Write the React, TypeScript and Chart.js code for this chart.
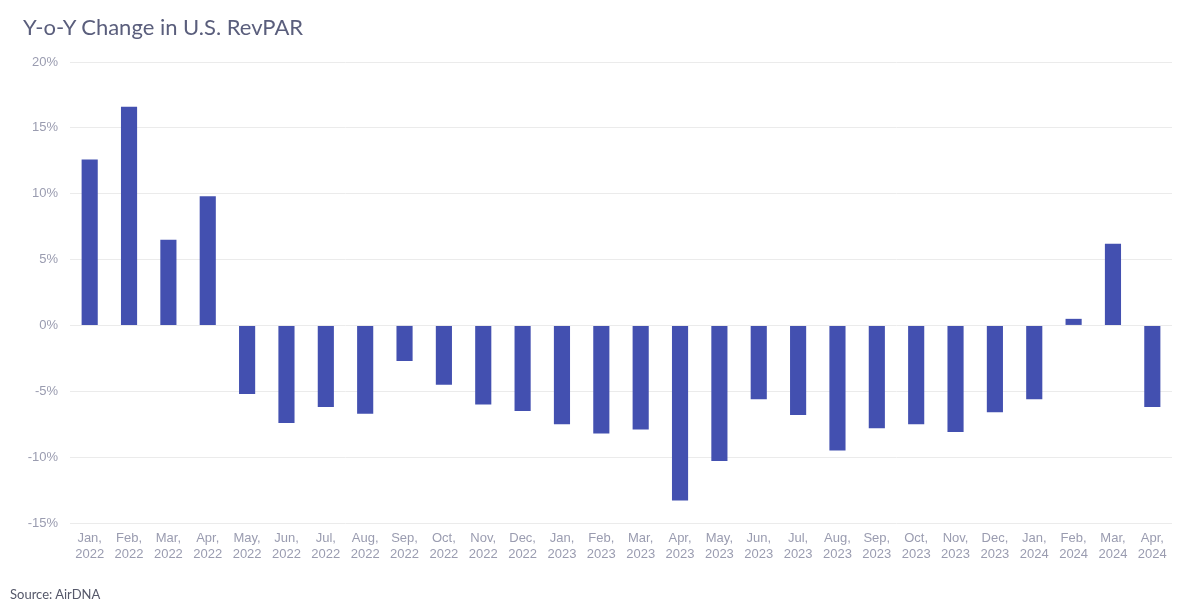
import React, { useEffect, useRef } from "react";
import { Chart, registerables } from "chart.js";

Chart.register(...registerables);

const months = ["Jan", "Feb", "Mar", "Apr", "May", "Jun", "Jul", "Aug", "Sep", "Oct", "Nov", "Dec",
  "Jan", "Feb", "Mar", "Apr", "May", "Jun", "Jul", "Aug", "Sep", "Oct", "Nov", "Dec",
  "Jan", "Feb", "Mar", "Apr"];
const years = ["2022", "2022", "2022", "2022", "2022", "2022", "2022", "2022", "2022", "2022", "2022", "2022",
  "2023", "2023", "2023", "2023", "2023", "2023", "2023", "2023", "2023", "2023", "2023", "2023",
  "2024", "2024", "2024", "2024"];
const revparChange = [12.6, 16.6, 6.5, 9.8, -5.2, -7.4, -6.2, -6.7, -2.7, -4.5, -6.0, -6.5,
  -7.5, -8.2, -7.9, -13.3, -10.3, -5.6, -6.8, -9.5, -7.8, -7.5, -8.1, -6.6,
  -5.6, 0.5, 6.2, -6.2];
const yTicks = [-15, -10, -5, 0, 5, 10, 15, 20];

const labels = months.map((m, i) => [m + ",", years[i]]);

export default function App() {
  const ref = useRef<HTMLCanvasElement>(null);
  useEffect(() => {
    const chart = new Chart(ref.current!, {
      type: "bar",
      data: {
        labels,
        datasets: [
          {
            data: revparChange,
            backgroundColor: "#4350b0",
            borderWidth: 0,
            categoryPercentage: 1,
            barPercentage: 0.41,
          },
        ],
      },
      options: {
        animation: false,
        responsive: false,
        maintainAspectRatio: false,
        layout: { padding: { top: 62, right: 28, bottom: 0, left: 0 } },
        plugins: { legend: { display: false }, tooltip: { enabled: false } },
        scales: {
          x: {
            grid: { display: false, drawTicks: false },
            border: { display: false },
            ticks: {
              color: "#9a9cb0",
              font: { family: "'Liberation Sans', Arial, sans-serif", size: 13 },
              padding: 8,
              maxRotation: 0,
              autoSkip: false,
            },
            afterFit: (s: any) => {
              s.height = 612 - 523;
            },
          },
          y: {
            min: yTicks[0],
            max: yTicks[yTicks.length - 1],
            grid: { color: "#ebebeb", drawTicks: false, lineWidth: 1 },
            border: { display: false },
            afterBuildTicks: (s: any) => {
              s.ticks = yTicks.map((v) => ({ value: v }));
            },
            ticks: {
              color: "#9a9cb0",
              font: { family: "'Liberation Sans', Arial, sans-serif", size: 13 },
              padding: 12,
              callback: (v: any) => v + "%",
            },
            afterFit: (s: any) => {
              s.width = 70;
            },
          },
        },
      },
    });
    return () => chart.destroy();
  }, []);
  return (
    <div style={{ position: "absolute", left: 0, top: 0, width: 1200, height: 612, background: "#fff" }}>
      <canvas ref={ref} width={1200} height={612} style={{ position: "absolute", left: 0, top: 0 }} />
      <div
        style={{
          position: "absolute",
          left: 23,
          top: 13,
          fontFamily: "Lato, 'Open Sans', sans-serif",
          fontSize: 22,
          color: "#5a5e7c",
          whiteSpace: "nowrap",
        }}
      >
        Y-o-Y Change in U.S. RevPAR
      </div>
      <div
        style={{
          position: "absolute",
          left: 10,
          top: 586,
          fontFamily: "Lato, 'Open Sans', sans-serif",
          fontSize: 13,
          color: "#55586a",
          whiteSpace: "nowrap",
        }}
      >
        Source: AirDNA
      </div>
    </div>
  );
}
